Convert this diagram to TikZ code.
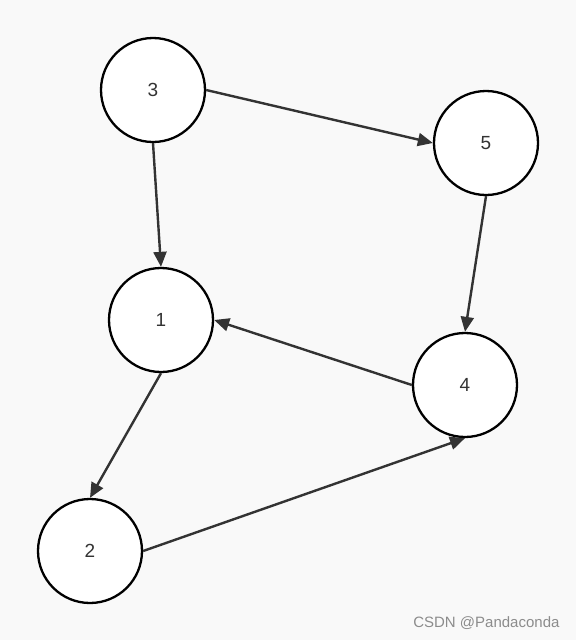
\documentclass[tikz,border=0pt]{standalone}
\usepackage{fontspec}
\setmainfont{Liberation Sans}
\usepackage{xcolor}
\usetikzlibrary{arrows.meta,positioning}
\definecolor{bgcol}{HTML}{F9F9F9}
\definecolor{edgecol}{HTML}{333333}

\begin{document}
\begin{tikzpicture}[
  x=1pt, y=-1pt,
  vertex/.style={draw, circle, line width=2.3pt, fill=white, minimum size=104pt, inner sep=0pt, font=\fontsize{19}{22}\selectfont, text=black!80},
  arrow/.style={-{Triangle[length=15pt,width=13pt]}, line width=2.4pt, draw=edgecol}
]
\fill[bgcol] (0,0) rectangle (576,640);
\useasboundingbox (0,0) rectangle (576,640);

\node[vertex] (three) at (153,90) {3};
\node[vertex] (five) at (486,143) {5};
\node[vertex] (one) at (161,320) {1};
\node[vertex] (four) at (465,385) {4};
\node[vertex] (two) at (90,551) {2};

\draw[arrow] (three.east) -- (five.west);
\draw[arrow] (three.south) -- (one.north);
\draw[arrow] (five.south) -- (four.north);
\draw[arrow] (four.west) -- (one.east);
\draw[arrow] (one.south) -- (two.north);
\draw[arrow] (two.east) -- (four.south);

\node[font=\fontsize{15}{17}\selectfont, text=black!45, anchor=east] (mark) at (563,623) {CSDN @Pandaconda};
\end{tikzpicture}
\end{document}
